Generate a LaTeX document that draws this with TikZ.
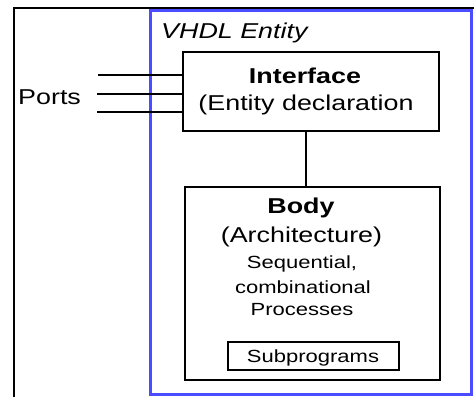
\documentclass[tikz,border=0pt]{standalone}
\usepackage{fontspec}
\setmainfont{Liberation Sans}
\newfontfamily\widefont[FakeStretch=1.25]{Liberation Sans}
\definecolor{frameblue}{RGB}{75,75,255}
\tikzset{
  mtext/.style={inner sep=0pt, anchor=base, font=\widefont\fontsize{21.5}{24}\selectfont},
  btext/.style={mtext, font=\widefont\bfseries\fontsize{21.5}{24}\selectfont},
  stext/.style={inner sep=0pt, anchor=base, font=\widefont\fontsize{17.6}{20}\selectfont},
  boxnode/.style={draw=black, line width=1.6pt, inner sep=0pt, fill=none},
  wire/.style={draw=black, line width=1.2pt},
}
\begin{document}
\begin{tikzpicture}[x=1pt,y=-1pt]
\useasboundingbox (0,0) rectangle (474,397);
\fill[white] (0,0) rectangle (474,397);
% outer frame (open)
\draw[line width=1.2pt] (14,397) -- (14,8) -- (474,8);
% VHDL entity frame
\draw[frameblue, line width=3pt] (150.5,10.5) rectangle (471,394);
\node[mtext, anchor=base west, font=\widefont\itshape\fontsize{21.5}{24}\selectfont] (ent) at (161,38) {VHDL Entity};
% interface
\node[boxnode, minimum width=256pt, minimum height=79pt] (interface) at (311,91.5) {};
\node[btext] (ift) at (305,83) {Interface};
\node[mtext] (ifd) at (306,110) {(Entity declaration};
% ports
\coordinate (p1) at (98,75);
\coordinate (p2) at (97,94);
\coordinate (p3) at (97,112);
\draw[wire] (p1) -- (interface.west |- p1);
\draw[wire] (p2) -- (interface.west |- p2);
\draw[wire] (p3) -- (interface.west |- p3);
\node[mtext, anchor=base west] (ports) at (18,104) {Ports};
% body
\node[boxnode, minimum width=255pt, minimum height=193pt] (body) at (312.5,283.5) {};
\coordinate (cx) at (306,0);
\draw[wire] (interface.south -| cx) -- (body.north -| cx);
\node[btext] (bt) at (301,213) {Body};
\node[mtext] (arch) at (301.5,242) {(Architecture)};
\node[stext] (seq) at (302,268) {Sequential,};
\node[stext] (comb) at (303,293) {combinational};
\node[stext] (proc) at (302,315) {Processes};
% subprograms
\node[boxnode, line width=1.4pt, minimum width=171pt, minimum height=28pt] (sub) at (313.5,356) {};
\node[stext] (subt) at (313,362) {Subprograms};
\end{tikzpicture}
\end{document}
